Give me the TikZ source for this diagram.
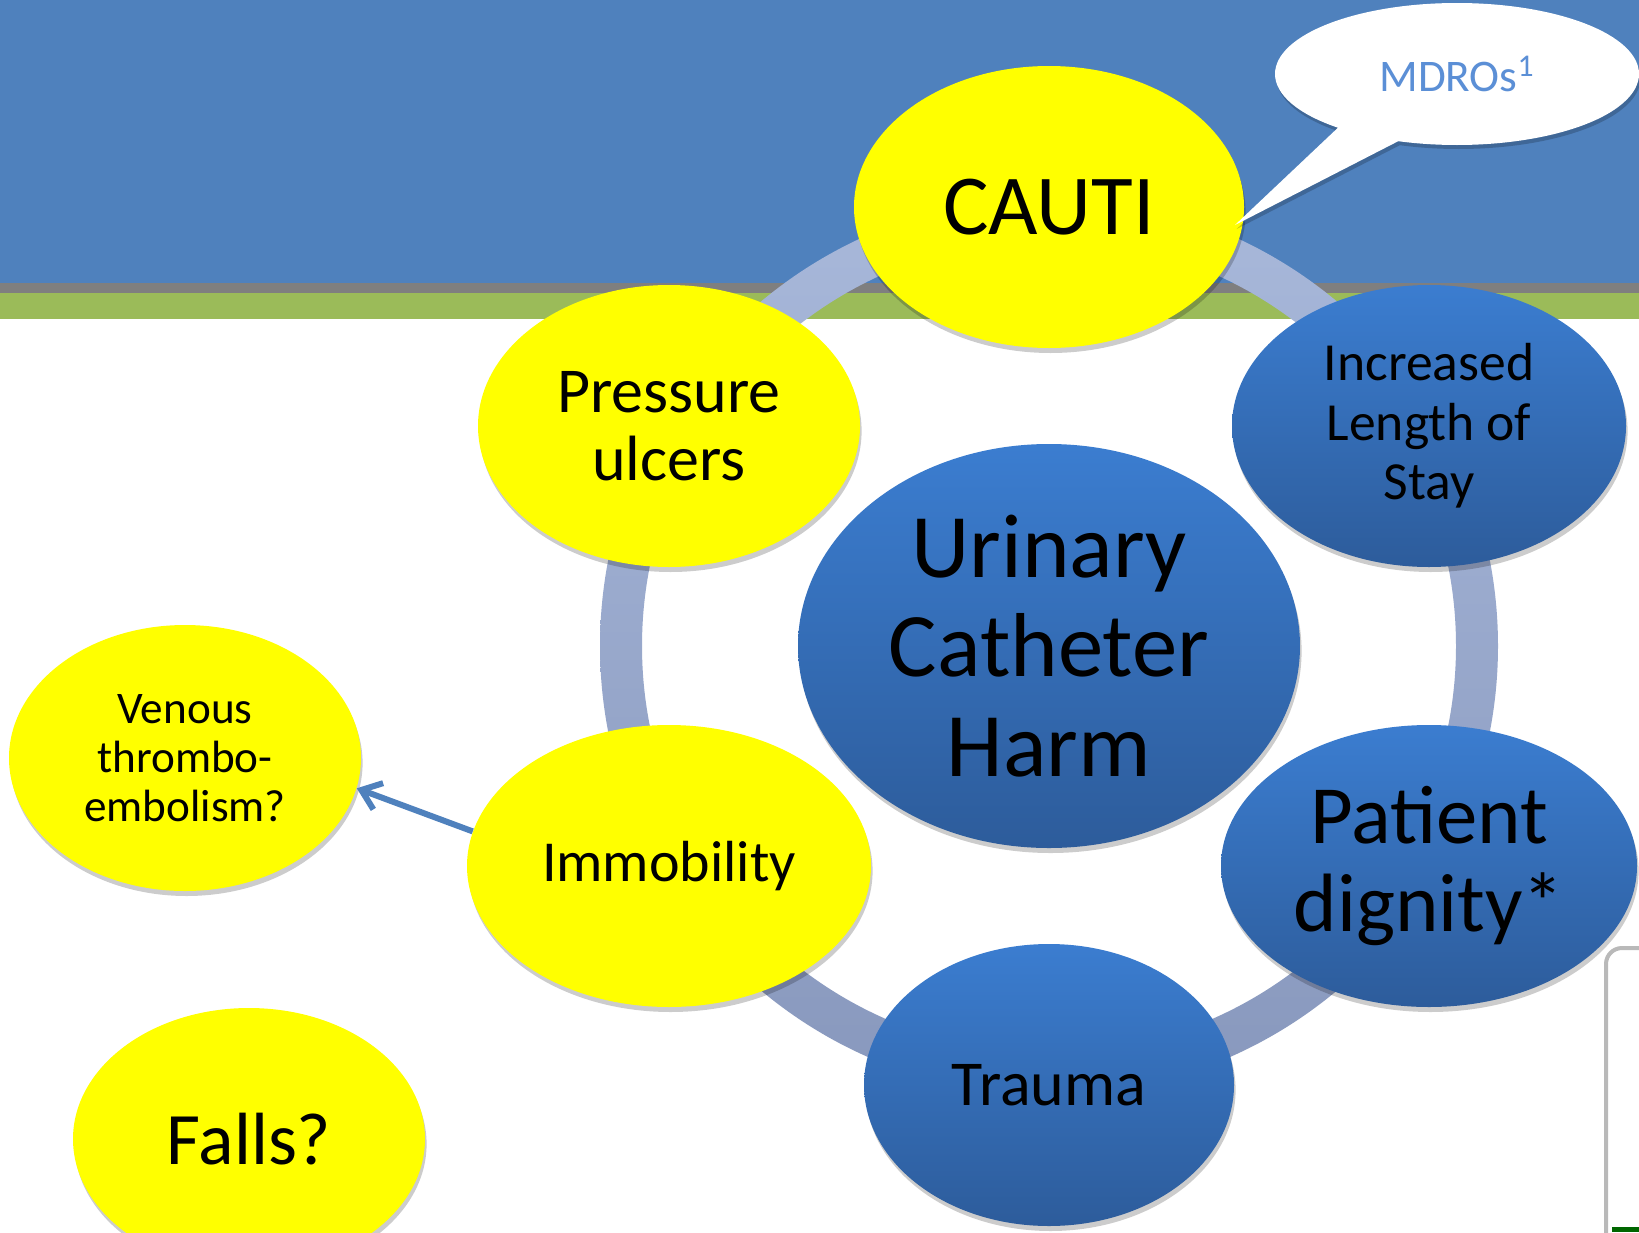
\documentclass[tikz,border=0pt]{standalone}
\usepackage{fontspec}
\setmainfont{Carlito}
\usetikzlibrary{shapes.geometric}
\usetikzlibrary{shapes.callouts}
\usetikzlibrary{shadows}
\usetikzlibrary{arrows.meta}
\usetikzlibrary{positioning}
\definecolor{band_blue}{HTML}{4F81BD}
\definecolor{band_gray}{HTML}{7F7F7F}
\definecolor{band_green}{HTML}{9BBB59}
\definecolor{ring_top}{HTML}{A8B8DA}
\definecolor{ring_bottom}{HTML}{8898BD}
\definecolor{ball_top}{HTML}{3B7DD0}
\definecolor{ball_bottom}{HTML}{2D5C9B}
\definecolor{ball_yellow}{HTML}{FFFF00}
\definecolor{mdro_text}{HTML}{5B8FD6}
\tikzstyle{ball_base}=[ellipse, inner sep=0pt, align=center, text=black,
    drop shadow={shadow xshift=0.8pt, shadow yshift=-2.5pt, opacity=0.2, fill=black}]
\tikzstyle{ball_yellow}=[ball_base, fill=ball_yellow]
\tikzstyle{ball_blue}=[ball_base, top color=ball_top, bottom color=ball_bottom]

\begin{document}
\begin{tikzpicture}[x=0.5pt, y=-0.5pt]
          \useasboundingbox (0,0) rectangle (1639,1232);
          \fill[white] (0,0) rectangle (1639,1232);
          \fill[band_blue] (0,0) rectangle (1639,283);
          \fill[band_gray] (0,283) rectangle (1639,293);
          \fill[band_green] (0,293) rectangle (1639,319);
          % ring behind the bubbles
          \coordinate (hub) at (1049,646);
          \path[top color=ring_top, bottom color=ring_bottom, even odd rule]
            (hub) circle[radius=224.5pt] (hub) circle[radius=203.5pt];
          % partly visible box at the right edge
          \draw[gray!55, line width=2pt, fill=white, rounded corners=8pt] (1606,948) rectangle (1700,1300);
          \fill[green!40!black] (1612,1227) rectangle (1639,1232);
          \node[ball_blue, minimum width=251pt, minimum height=202pt, font=\fontsize{45.4}{49.7}\selectfont] (harm) at (hub){Urinary\\Catheter\\Harm};
          \node[ball_yellow, minimum width=195pt, minimum height=141pt, font=\fontsize{42.7}{46}\selectfont] (cauti) at (1049,207){CAUTI};
          \node[ball_yellow, minimum width=191pt, minimum height=141pt, font=\fontsize{32}{34}\selectfont] (ulcers) at (669,426){Pressure\\ulcers};
          \node[ball_blue, minimum width=197pt, minimum height=141pt, font=\fontsize{26.8}{29.8}\selectfont] (stay) at (1429,426){Increased\\Length of\\Stay};
          \node[ball_blue, minimum width=208pt, minimum height=141pt, font=\fontsize{41.4}{44.4}\selectfont] (dignity) at (1429,866){Patient\\dignity*};
          \node[ball_blue, minimum width=185pt, minimum height=141pt, font=\fontsize{32}{34}\selectfont] (trauma) at (1049,1085){Trauma};
          \node[ball_yellow, minimum width=202pt, minimum height=141pt, font=\fontsize{29}{32}\selectfont] (immob) at (669,866){Immobility};
          \node[ball_yellow, minimum width=176pt, minimum height=133pt, font=\fontsize{22.6}{24.5}\selectfont] (venous) at (185,758){Venous\\thrombo-\\embolism?};
          \node[ball_yellow, minimum width=176pt, minimum height=131pt, font=\fontsize{37}{40}\selectfont] (falls) at (249,1139){Falls?};
          \draw[band_blue, line width=3pt, -{Straight Barb[length=9pt, width=14pt]}] (immob.170) -- (venous.-10);
          % speech bubble pointing at CAUTI
          \coordinate (mdro_tip) at (1235,225);
          \node[ellipse callout, fill=white, minimum width=182pt, minimum height=71pt, inner sep=0pt,
            callout absolute pointer={(mdro_tip)}, callout pointer arc=22,
            drop shadow={shadow xshift=0.8pt, shadow yshift=-2pt, opacity=0.2, fill=black},
            text=mdro_text, font=\fontsize{22.6}{24}\selectfont] (mdro) at (1457,74){MDROs\textsuperscript{1}};
        \end{tikzpicture}
\end{document}
